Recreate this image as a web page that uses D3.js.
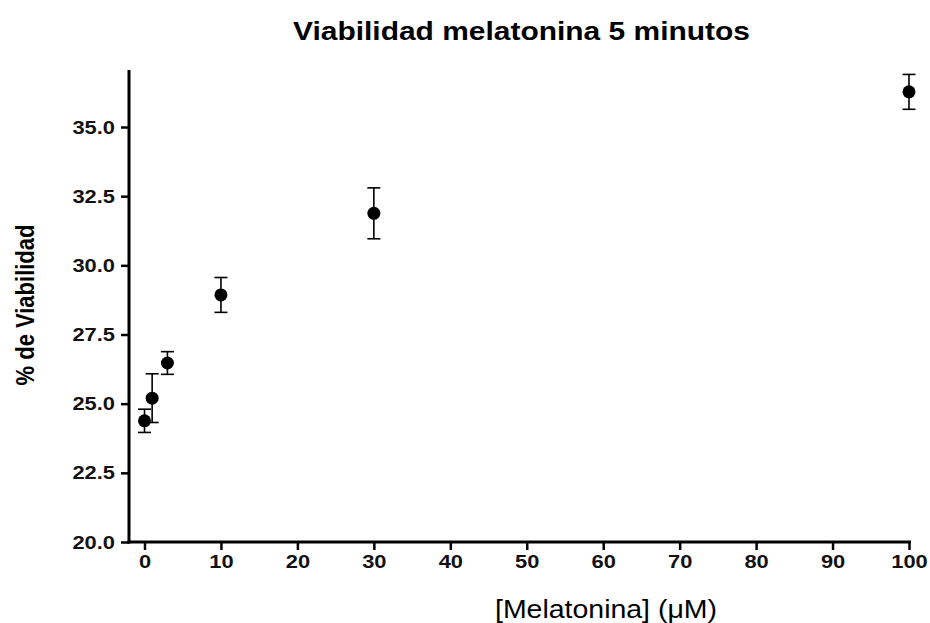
<!DOCTYPE html>
<html>
<head>
<meta charset="utf-8">
<script src="https://cdn.jsdelivr.net/npm/d3@7"></script>
<style>
  body { margin: 0; background: #fff; }
  svg { display: block; font-family: "Liberation Sans", Arial, sans-serif; }
</style>
</head>
<body>
<div id="chart"></div>
<script>
const width = 930;
const height = 623;

// data
const doses = [0, 1, 3, 10, 30, 100];
const viability = [24.38, 25.2, 26.47, 28.93, 31.88, 36.27];
const sem = [0.42, 0.88, 0.41, 0.63, 0.92, 0.63];
const xTicks = [0, 10, 20, 30, 40, 50, 60, 70, 80, 90, 100];
const yTicks = [20, 22.5, 25, 27.5, 30, 32.5, 35];

const points = doses.map((d, i) => ({x: d, y: viability[i], e: sem[i]}));

// the original picture is a bit wider than tall, so text is stretched sideways
const stretch = 1.15;

const x = d3.scaleLinear().domain([0, 100]).range([144.5, 909]);
const y = d3.scaleLinear().domain([20, 35]).range([542, 127]);

const svg = d3.select("#chart").append("svg")
    .attr("width", width)
    .attr("height", height);

function widen(sel, k) {
  sel.each(function() {
    const w = this.getComputedTextLength();
    d3.select(this)
      .attr("textLength", w * k)
      .attr("lengthAdjust", "spacingAndGlyphs");
  });
}

// x axis
const xAxis = svg.append("g")
    .attr("transform", `translate(0,${y(20)})`)
    .call(d3.axisBottom(x).tickValues(xTicks).tickSize(8).tickPadding(5).tickSizeOuter(0));
xAxis.select(".domain").remove();
xAxis.append("line")
    .attr("x1", 127.5).attr("x2", 911)
    .attr("stroke", "#000").attr("stroke-width", 3);

// y axis
const yAxis = svg.append("g")
    .attr("transform", `translate(${x(0) - 15.5},0)`)
    .call(d3.axisLeft(y).tickValues(yTicks).tickFormat(d3.format(".1f")).tickSize(8).tickPadding(6));
yAxis.select(".domain").remove();
yAxis.append("line")
    .attr("y1", 70).attr("y2", y(20) + 1.5)
    .attr("stroke", "#000").attr("stroke-width", 3);

svg.selectAll(".tick line").attr("stroke", "#000").attr("stroke-width", 2.5);
svg.selectAll(".tick text")
    .attr("fill", "#111")
    .style("font-size", "19px")
    .style("font-weight", "bold")
    .style("font-family", "'Liberation Sans', Arial, sans-serif")
    .call(widen, stretch);

// error bars
const bars = svg.append("g")
    .attr("stroke", "#000")
    .attr("stroke-width", 1.6)
  .selectAll("g")
  .data(points)
  .join("g");

bars.append("line")
    .attr("x1", d => x(d.x)).attr("x2", d => x(d.x))
    .attr("y1", d => y(d.y - d.e)).attr("y2", d => y(d.y + d.e));
bars.append("line")
    .attr("x1", d => x(d.x) - 6.5).attr("x2", d => x(d.x) + 6.5)
    .attr("y1", d => y(d.y + d.e)).attr("y2", d => y(d.y + d.e));
bars.append("line")
    .attr("x1", d => x(d.x) - 6.5).attr("x2", d => x(d.x) + 6.5)
    .attr("y1", d => y(d.y - d.e)).attr("y2", d => y(d.y - d.e));

// points
svg.append("g")
  .selectAll("circle")
  .data(points)
  .join("circle")
    .attr("cx", d => x(d.x))
    .attr("cy", d => y(d.y))
    .attr("r", 6.5)
    .attr("fill", "#000");

// title and labels
svg.append("text")
    .attr("x", 521.5).attr("y", 40)
    .attr("text-anchor", "middle")
    .style("font-size", "25px")
    .style("font-weight", "bold")
    .text("Viabilidad melatonina 5 minutos")
    .attr("textLength", 457)
    .attr("lengthAdjust", "spacingAndGlyphs");

svg.append("text")
    .attr("transform", `translate(34,305) scale(${stretch},1) rotate(-90)`)
    .attr("text-anchor", "middle")
    .style("font-size", "22px")
    .style("font-weight", "bold")
    .text("% de Viabilidad");

svg.append("text")
    .attr("x", 606).attr("y", 618)
    .attr("text-anchor", "middle")
    .style("font-size", "25px")
    .text("[Melatonina] (μM)")
    .attr("textLength", 222)
    .attr("lengthAdjust", "spacingAndGlyphs");
</script>
</body>
</html>
